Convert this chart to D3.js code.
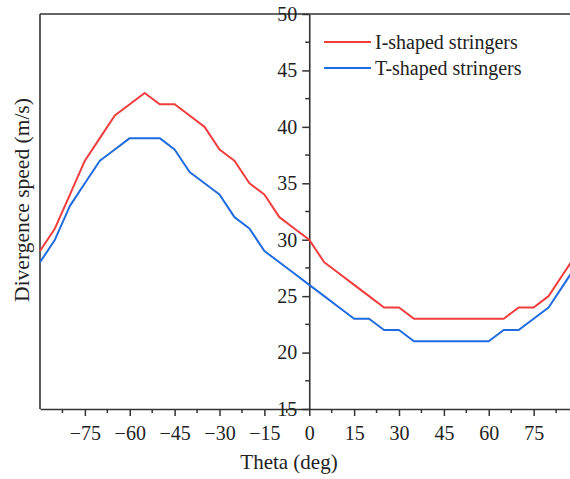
<!DOCTYPE html>
<html>
<head>
<meta charset="utf-8">
<script src="https://cdn.jsdelivr.net/npm/d3@7"></script>
<style>
  body { margin: 0; background: #fff; }
  text { font-family: "Liberation Serif", "Times New Roman", serif; fill: #222; }
</style>
</head>
<body>
<div id="chart"></div>
<script>
// data
const theta = [-90, -85, -80, -75, -70, -65, -60, -55, -50, -45, -40, -35, -30, -25, -20, -15, -10, -5,
  0, 5, 10, 15, 20, 25, 30, 35, 40, 45, 50, 55, 60, 65, 70, 75, 80, 85, 90];
const iShaped = [29, 31, 34, 37, 39, 41, 42, 43, 42, 42, 41, 40, 38, 37, 35, 34, 32, 31,
  30, 28, 27, 26, 25, 24, 24, 23, 23, 23, 23, 23, 23, 23, 24, 24, 25, 27, 29];
const tShaped = [28, 30, 33, 35, 37, 38, 39, 39, 39, 38, 36, 35, 34, 32, 31, 29, 28, 27,
  26, 25, 24, 23, 23, 22, 22, 21, 21, 21, 21, 21, 21, 22, 22, 23, 24, 26, 28];
const seriesNames = ["I-shaped stringers", "T-shaped stringers"];
const seriesColors = ["#f23c3c", "#1f6be0"];
const xTicks = [-75, -60, -45, -30, -15, 0, 15, 30, 45, 60, 75];
const xMinor = [-82.5, -67.5, -52.5, -37.5, -22.5, -7.5, 7.5, 22.5, 37.5, 52.5, 67.5, 82.5];
const yTicks = [15, 20, 25, 30, 35, 40, 45, 50];
const yMinor = [17.5, 22.5, 27.5, 32.5, 37.5, 42.5, 47.5];

const W = 570, H = 479;
const serif = '"Liberation Serif", "Times New Roman", serif';
// plot box (right edge runs past the window, as in the original)
const box = {left: 40, right: 578.5, top: 14, bottom: 409};

const svg = d3.select("#chart").append("svg")
  .attr("width", W)
  .attr("height", H);

const x = d3.scaleLinear().domain([-90, 90]).range([box.left, box.right]);
const y = d3.scaleLinear().domain([15, 50]).range([box.bottom, box.top]);

const axisColor = "#333";

// frame: left and top borders
svg.append("line").attr("x1", box.left).attr("x2", box.left).attr("y1", box.top).attr("y2", box.bottom)
  .attr("stroke", axisColor).attr("stroke-width", 1.6);
svg.append("line").attr("x1", box.left).attr("x2", box.right).attr("y1", box.top).attr("y2", box.top)
  .attr("stroke", axisColor).attr("stroke-width", 1.6);

// x axis at bottom
const gx = svg.append("g")
  .attr("transform", "translate(0," + box.bottom + ")")
  .call(d3.axisBottom(x).tickValues(xTicks).tickSize(7).tickPadding(10).tickSizeOuter(0))
  .attr("font-family", serif).attr("font-size", 20);
gx.select(".domain").attr("stroke", axisColor).attr("stroke-width", 1.6);
gx.selectAll(".tick line").attr("stroke", axisColor).attr("stroke-width", 1.5);
gx.selectAll("text").style("font-family", serif).style("font-size", "20px").attr("fill", "#222");
gx.selectAll(".minor").data(xMinor).enter().append("line")
  .attr("x1", d => x(d)).attr("x2", d => x(d)).attr("y1", 0).attr("y2", 4)
  .attr("stroke", axisColor).attr("stroke-width", 1.5);

// y axis through theta = 0
const gy = svg.append("g")
  .attr("transform", "translate(" + x(0) + ",0)")
  .call(d3.axisLeft(y).tickValues(yTicks).tickSize(7).tickPadding(5).tickSizeOuter(0))
  .attr("font-family", serif).attr("font-size", 20);
gy.select(".domain").attr("stroke", axisColor).attr("stroke-width", 1.6);
gy.selectAll(".tick line").attr("stroke", axisColor).attr("stroke-width", 1.5);
gy.selectAll("text").style("font-family", serif).style("font-size", "20px").attr("fill", "#222");
gy.selectAll(".minor").data(yMinor).enter().append("line")
  .attr("y1", d => y(d)).attr("y2", d => y(d)).attr("x1", 0).attr("x2", -4)
  .attr("stroke", axisColor).attr("stroke-width", 1.5);

// lines
const line = d3.line()
  .x(d => x(d[0]))
  .y(d => y(d[1]));

[iShaped, tShaped].forEach(function(vals, i) {
  svg.append("path")
    .datum(theta.map((t, j) => [t, vals[j]]))
    .attr("fill", "none")
    .attr("stroke", seriesColors[i])
    .attr("stroke-width", 2)
    .attr("stroke-linejoin", "round")
    .attr("d", line);
});

// legend
const legend = svg.append("g");
seriesNames.forEach(function(name, i) {
  const ly = 42 + i * 26;
  legend.append("line")
    .attr("x1", 324).attr("x2", 371).attr("y1", ly).attr("y2", ly)
    .attr("stroke", seriesColors[i]).attr("stroke-width", 2);
  legend.append("text")
    .attr("x", 375).attr("y", ly).attr("dy", "0.33em")
    .style("font-size", "20px")
    .text(name);
});

// axis titles
svg.append("text")
  .attr("x", 289).attr("y", 469)
  .attr("text-anchor", "middle")
  .style("font-size", "21px")
  .text("Theta (deg)");

svg.append("text")
  .attr("transform", "translate(29,200) rotate(-90)")
  .attr("text-anchor", "middle")
  .style("font-size", "21.5px")
  .text("Divergence speed (m/s)");
</script>
</body>
</html>
